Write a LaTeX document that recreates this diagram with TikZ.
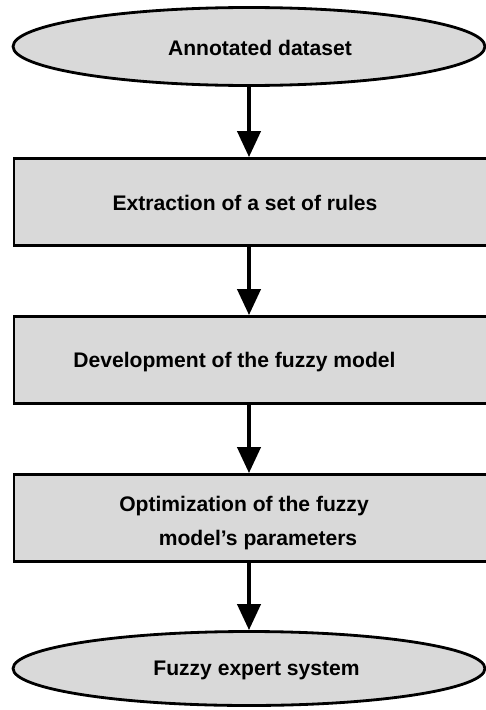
\documentclass[tikz,border=0pt]{standalone}
\usepackage{fontspec}
\setmainfont{Liberation Sans}
\usetikzlibrary{shapes.geometric,arrows.meta}

\definecolor{boxgray}{HTML}{D9D9D9}

\begin{document}
\begin{tikzpicture}[x=0.02cm,y=-0.02cm,
  terminal/.style={ellipse,draw,fill=boxgray,line width=1.6pt,inner sep=0pt,minimum width=9.44cm},
  stage/.style={rectangle,draw,fill=boxgray,line width=1.6pt,inner sep=0pt,minimum width=9.5cm,minimum height=1.74cm},
  caption/.style={font=\fontsize{12}{19.3}\selectfont\bfseries,align=center,inner sep=0pt},
  flow/.style={line width=2.3pt,-{Triangle[length=0.52cm,width=0.46cm]}}]
\useasboundingbox (0,0) rectangle (486,710);
% shapes
\node[terminal,minimum height=1.56cm] (data) at (249,46.5) {};
\node[stage] (rules) at (251.5,202) {};
\node[stage] (fuzzy) at (251.5,360) {};
\node[stage] (optim) at (251.5,518) {};
\node[terminal,minimum height=1.48cm] (expert) at (249,668.5) {};
% texts
\node[caption] (data-txt) at (260,48) {Annotated dataset};
\node[caption] (rules-txt) at (245,203) {Extraction of a set of rules};
\node[caption] (fuzzy-txt) at (234.5,362) {Development of the fuzzy model};
\node[caption] (optim-txt) at (244,523) {Optimization of the fuzzy\\\hspace*{0.56cm}model’s parameters};
\node[caption] (expert-txt) at (256.5,670) {Fuzzy expert system};
% arrows
\draw[flow] (data.south) -- (data.south |- rules.north);
\draw[flow] (data.south |- rules.south) -- (data.south |- fuzzy.north);
\draw[flow] (data.south |- fuzzy.south) -- (data.south |- optim.north);
\draw[flow] (data.south |- optim.south) -- (expert.north);
\end{tikzpicture}
\end{document}
